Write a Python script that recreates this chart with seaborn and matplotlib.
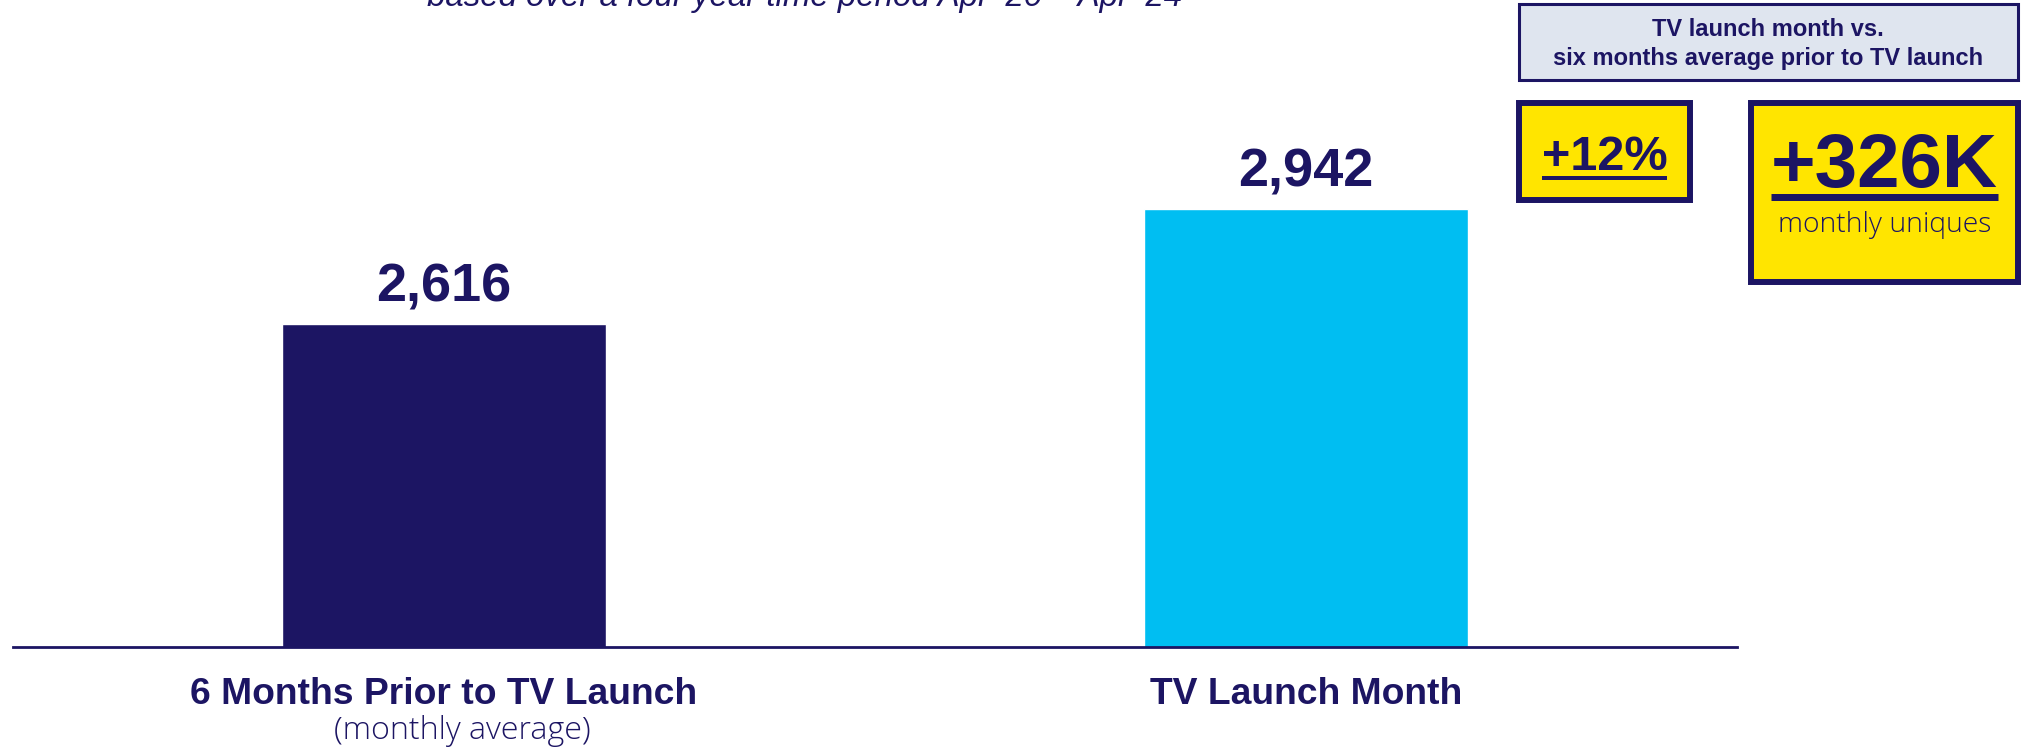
import matplotlib
matplotlib.use("Agg")
import matplotlib.pyplot as plt
import seaborn as sns
import pandas as pd
from matplotlib.patches import Rectangle
from matplotlib.lines import Line2D
from matplotlib.transforms import blended_transform_factory, offset_copy

# ---- data ----
categories = ["6 Months Prior to TV Launch", "TV Launch Month"]
sub_labels = ["(monthly average)", ""]
values = [2616, 2942]
value_labels = ["2,616", "2,942"]
bar_colors = ["#1C1563", "#00BEF2"]
subtitle = "based over a four year time period Apr \u201820 \u2013 Apr \u201824"
header_lines = ["TV launch month vs.", "six months average prior to TV launch"]
pct_text = "+12%"
abs_text = "+326K"
abs_sub = "monthly uniques"

NAVY = "#1C1563"
YELLOW = "#FFE500"
HEADER_BG = "#DFE5EF"
LIGHT_FAMILY = ["Open Sans", "Lato", "DejaVu Sans"]

sns.set_theme(style="white")
plt.rcParams["font.family"] = ["Liberation Sans", "DejaVu Sans"]

W, H = 2023, 749
fig = plt.figure(figsize=(W / 100, H / 100), dpi=100)

def fx(px):
    return px / W

def fy(py):
    return 1 - py / H

# axes: left 13px, right 1737px, bottom at y=647 px, top at y=0
ax = fig.add_axes([fx(13), 1 - 647 / H, fx(1737 - 13), 647 / H])
df = pd.DataFrame({"cat": categories, "val": values})
sns.barplot(data=df, x="cat", y="val", hue="cat", palette=bar_colors,
            width=0.377, legend=False, ax=ax, saturation=1)
ax.set_xlim(-0.5, 1.5)
ax.set_ylim(1700, 1700 + 647 / 0.3527)
ax.set_xticks([])
ax.set_yticks([])
ax.set_xlabel("")
ax.set_ylabel("")
for s in ["top", "left", "right"]:
    ax.spines[s].set_visible(False)
ax.spines["bottom"].set_color(NAVY)
ax.spines["bottom"].set_linewidth(2.0)
ax.patch.set_alpha(0)

# value labels
for i, (v, lab) in enumerate(zip(values, value_labels)):
    ax.annotate(lab, xy=(i, v), xytext=(0, 16), textcoords="offset points",
                ha="center", va="baseline", fontsize=39, fontweight="bold",
                color=NAVY)

# category labels
tr = blended_transform_factory(ax.transData, fig.transFigure)
tr_sub = offset_copy(tr, fig=fig, x=18, y=0, units="dots")
for i, (c, s) in enumerate(zip(categories, sub_labels)):
    ax.text(i, fy(704), c, transform=tr, ha="center", va="baseline",
            fontsize=26.8, fontweight="bold", color=NAVY)
    if s:
        ax.text(i, fy(739), s, transform=tr_sub, ha="center", va="baseline",
                fontsize=23.2, fontweight=300, color=NAVY,
                family=LIGHT_FAMILY)

# subtitle (clipped at top, as in the reference)
fig.text(fx(805), fy(6), subtitle, ha="center", va="baseline", fontsize=23.8,
         style="italic", color=NAVY)

# header box
fig.patches.append(Rectangle((fx(1518.5), fy(80)), fx(2018 - 1518.5), (80 - 3.5) / H,
                             transform=fig.transFigure, facecolor=HEADER_BG,
                             edgecolor=NAVY, linewidth=2.2))
fig.text(fx(1768), fy(36), header_lines[0], ha="center", va="baseline",
         fontsize=17, fontweight="bold", color=NAVY)
fig.text(fx(1768), fy(65), header_lines[1], ha="center",
         va="baseline", fontsize=17, fontweight="bold", color=NAVY)

# +12% box
fig.patches.append(Rectangle((fx(1519), fy(200)), fx(1690 - 1519), (200 - 103) / H,
                             transform=fig.transFigure, facecolor=YELLOW,
                             edgecolor=NAVY, linewidth=4.3))
t1 = fig.text(fx(1604.5), fy(170), pct_text, ha="center", va="baseline",
              fontsize=35, fontweight="bold", color=NAVY)

# +326K box
fig.patches.append(Rectangle((fx(1751), fy(282)), fx(2018 - 1751), (282 - 103) / H,
                             transform=fig.transFigure, facecolor=YELLOW,
                             edgecolor=NAVY, linewidth=4.3))
t2 = fig.text(fx(1884.5), fy(187), abs_text, ha="center", va="baseline",
              fontsize=55, fontweight="bold", color=NAVY)
fig.text(fx(1884.5), fy(232), abs_sub, ha="center", va="baseline",
         fontsize=20.3, fontweight=300, color=NAVY, family=LIGHT_FAMILY)

# underlines
fig.canvas.draw()
r = fig.canvas.get_renderer()
for t, ypx, lwpx in [(t1, 178, 4), (t2, 197, 7)]:
    bb = t.get_window_extent(renderer=r)
    fig.lines.append(Line2D([bb.x0 / W, bb.x1 / W], [fy(ypx), fy(ypx)],
                            transform=fig.transFigure, color=NAVY,
                            linewidth=lwpx * 0.72, solid_capstyle="butt"))

fig.savefig("out.png", dpi=100)
